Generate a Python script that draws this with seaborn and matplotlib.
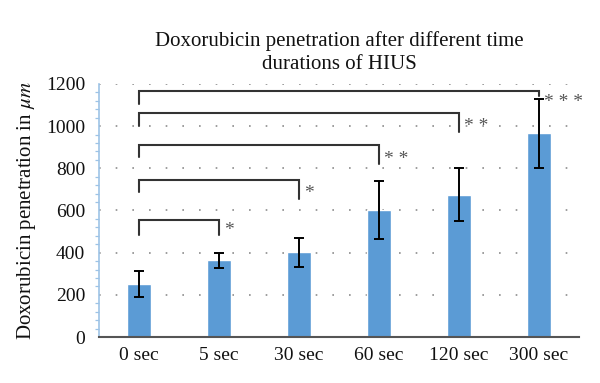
import matplotlib
matplotlib.use("Agg")
import matplotlib.pyplot as plt
import seaborn as sns
import pandas as pd
from matplotlib.ticker import MultipleLocator

# ---- data ----
categories = ["0 sec", "5 sec", "30 sec", "60 sec", "120 sec", "300 sec"]
means = [253, 363, 401, 602, 675, 965]
errors = [62, 37, 70, 136, 127, 163]

# significance brackets: right-hand category index, bar top, left drop end, right drop end, label
bracket_targets = [1, 2, 3, 4, 5]
bracket_tops = [554, 744, 909, 1064, 1168]
bracket_left_ends = [486, 686, 855, 1002, 1103]
bracket_right_ends = [486, 654, 819, 971, 1144]
bracket_labels = ["*", "*", "**", "**", "***"]
label_heights = [505, 680, 840, 1000, 1110]

title = "Doxorubicin penetration after different time\ndurations of HIUS"
ylabel = "Doxorubicin penetration in $\\mu m$"

df = pd.DataFrame({"duration": categories, "penetration": means})

sns.set_style("white")
plt.rcParams["font.family"] = ["Liberation Serif", "DejaVu Serif"]
plt.rcParams["mathtext.fontset"] = "stix"

fig = plt.figure(figsize=(6.0, 3.83), dpi=100)
ax = fig.add_axes([0.165, 0.12, 0.80, 0.661])

bar_color = "#5B9BD5"
sns.barplot(data=df, x="duration", y="penetration", order=categories,
            color=bar_color, width=0.3, ax=ax, errorbar=None, saturation=1)

ax.errorbar(range(len(categories)), means, yerr=errors, fmt="none",
            ecolor="black", elinewidth=1.4, capsize=3.5, capthick=1.4, zorder=5)

ax.set_xlim(-0.5, len(categories) - 0.5)
ax.set_ylim(0, 1200)
ax.yaxis.set_major_locator(MultipleLocator(200))
ax.yaxis.set_minor_locator(MultipleLocator(40))

ax.grid(False)
ax.set_axisbelow(True)
for yv in range(200, 1201, 200):
    ax.axhline(yv, color="#8c8c8c", linewidth=1.2, linestyle=(0, (1, 9)), zorder=0)

# spines
for s in ["top", "right"]:
    ax.spines[s].set_visible(False)
ax.spines["left"].set_color("#9DC3E6")
ax.spines["left"].set_linewidth(1.2)
ax.spines["bottom"].set_color("#555555")
ax.spines["bottom"].set_linewidth(1.5)
ax.spines["bottom"].set_zorder(6)

ax.tick_params(axis="y", which="major", direction="out", length=4, width=1.0,
               color="#9DC3E6", labelsize=14, pad=6, labelcolor="#111111")
ax.tick_params(axis="y", which="minor", direction="out", length=3, width=0.9,
               color="#9DC3E6", left=True)
ax.tick_params(axis="x", length=0, labelsize=14, pad=7, labelcolor="#111111")

ax.set_xlabel("")
ax.set_ylabel(ylabel, fontsize=15, labelpad=6, color="#111111")
ax.set_title(title, fontsize=15, pad=11, color="#111111", linespacing=1.25)

# brackets
for tgt, top, le, re, lab, lh in zip(bracket_targets, bracket_tops, bracket_left_ends,
                                     bracket_right_ends, bracket_labels, label_heights):
    ax.plot([0, 0, tgt, tgt], [le, top, top, re], color="#333333", linewidth=1.5,
            solid_joinstyle="miter", zorder=4)
    ax.text(tgt + 0.06, lh, " ".join(lab), fontsize=14, color="#555555",
            ha="left", va="center")

fig.savefig("out.png", dpi=100)
